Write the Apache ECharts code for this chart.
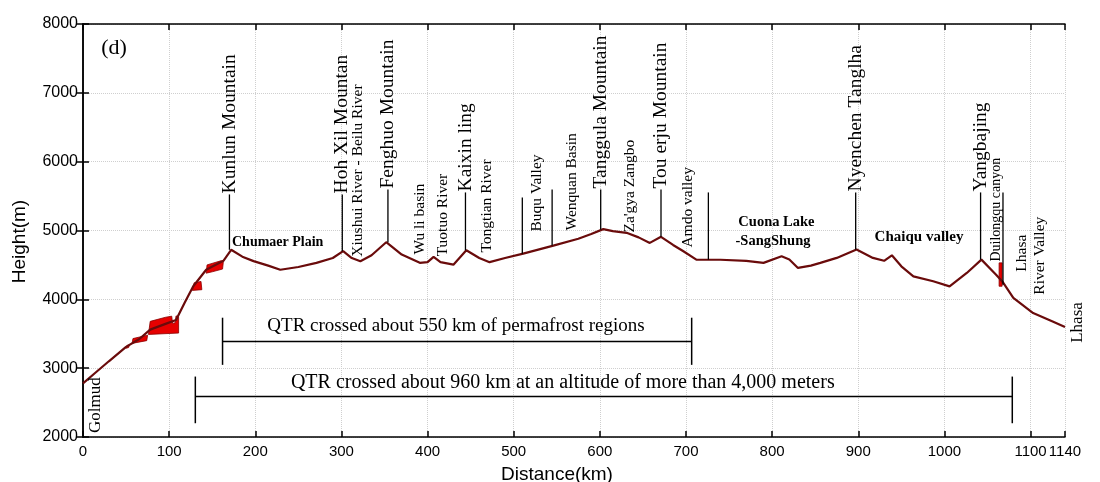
<!DOCTYPE html>
<html><head><meta charset="utf-8">
<script src="https://cdn.jsdelivr.net/npm/echarts@6/dist/echarts.min.js"></script>
<style>html,body{margin:0;padding:0;background:#fff}#c{width:1100px;height:482px}</style>
</head><body><div id="c"></div>
<script>
// ---- data ----
const profile = [[0,2780],[14,2930],[30,3100],[50,3310],[65,3420],[78,3560],[95,3640],[108,3700],[118,3950],[128,4190],[143,4430],[163,4560],[172,4720],[185,4620],[198,4555],[215,4490],[229,4430],[250,4470],[271,4530],[290,4600],[302,4700],[312,4600],[322,4553],[335,4640],[352,4830],[370,4650],[391,4530],[400,4540],[407,4616],[415,4540],[430,4504],[445,4713],[460,4600],[472,4540],[490,4600],[511,4664],[546,4781],[575,4880],[590,4950],[604,5020],[615,4990],[631,4966],[645,4900],[658,4820],[671,4908],[685,4790],[697,4698],[712,4577],[740,4575],[770,4560],[790,4530],[811,4625],[820,4580],[830,4456],[845,4490],[856,4529],[875,4602],[898,4723],[917,4602],[930,4560],[939,4640],[950,4480],[964,4334],[987,4262],[1006,4189],[1026,4383],[1043,4577],[1060,4358],[1068,4247],[1080,4020],[1103,3801],[1125,3680],[1140,3597]];
const redPatches = [
  [[50,3290],[51,3330],[54,3340],[53,3300]],
  [[57,3360],[58,3430],[75,3480],[74,3400]],
  [[76,3490],[78,3680],[96,3740],[103,3755],[104,3650],[107,3660],[108,3760],[111,3740],[111,3510]],
  [[127,4130],[129,4240],[137,4260],[138,4140]],
  [[143,4380],[144,4500],[160,4560],[163,4555],[162,4440],[150,4400]],
  [[1063.5,4190],[1063.5,4530],[1067,4530],[1067,4190]]
];
const peakNames = ["Kunlun Mountain","Hoh Xil Mountan","Fenghuo Mountain","Kaixin ling","Tanggula Mountain","Tou erju Mountain","Nyenchen Tanglha","Yangbajing"];
const peakKm = [170,301,354,444,601,671,897,1042];
const peakTop = [5524,5524,5596,5553,5596,5596,5553,5553];
const peakBottom = [4720,4700,4830,4713,5014,4908,4723,4577];
const smallNames = ["Xiushui River - Beilu River","Wu li basin","Tuotuo River","Tongtian River","Buqu Valley","Wenquan Basin","Za'gya Zangbo","Amdo valley","Duilongqu canyon","Lhasa","River Valley","Golmud","Lhasa"];
const smallKm = [319.6,391,418,468.6,527,567.7,635,702,1060,1090,1111,14,1155];
const smallBottom = [4620,4650,4625,4680,4985,5000,4970,4752,4548,4402,4068,2058,3369];
const smallSize = [15.5,15.5,15.5,15.5,15.5,15.5,15.5,15.5,14,15.5,15.5,17,17];
const leaderKm = [510,544.6,726,1068];
const leaderTop = [5480,5596,5553,5553];
const leaderBottom = [4664,4781,4577,4213];
const flatTexts = ["Chumaer Plain","Cuona Lake","-SangShung","Chaiqu valley","(d)"];
const flatKm = [226,805,801,970.5,36];
const flatH = [4829,5120,4843,4898,7649];
const flatSize = [14,14.5,14.5,15,22];
const spanTexts = ["QTR crossed about 550 km of permafrost regions","QTR crossed about 960 km at an altitude of more than 4,000 meters"];
const spanStart = [162,130.4];
const spanEnd = [706.6,1078.8];
const spanH = [3387,2587];
const spanTickLo = [3048,2200];
const spanTickHi = [3733,2878];
const spanTextKm = [433,557];
const spanTextH = [3606,2786];
const spanSize = [19,20];

const SERIF = '"Liberation Serif","Times New Roman",serif';
const SANS = '"Liberation Sans",Arial,sans-serif';

const chart = echarts.init(document.getElementById('c'));
const axisLineStyle = {color:'#000', width:1.5};
const plain = v => String(v);
const option = {
  backgroundColor:'#fff',
  animation:false,
  grid:{left:83,right:35,top:24,bottom:45,containLabel:false,outerBoundsMode:'none'},
  xAxis:[{
    type:'value', min:0, max:1140, interval:100,
    name:'Distance(km)', nameLocation:'middle', nameGap:28, nameMoveOverlap:false,
    nameTextStyle:{fontFamily:SANS, fontSize:19, color:'#000', padding:[0,34,0,0]},
    axisLine:{show:true, lineStyle:axisLineStyle},
    axisTick:{show:true, inside:true, length:6, lineStyle:{color:'#000', width:1.5}},
    axisLabel:{fontFamily:SANS, fontSize:15, color:'#000', margin:7, showMaxLabel:true, formatter:plain},
    splitLine:{show:true, lineStyle:{color:'#cfcfcf', type:'dotted', width:1}}
  },{
    type:'value', min:0, max:1140, interval:100, position:'top',
    axisLine:{show:true, lineStyle:axisLineStyle},
    axisTick:{show:true, inside:true, length:6, lineStyle:{color:'#000', width:1.5}},
    axisLabel:{show:false}, splitLine:{show:false}
  }],
  yAxis:[{
    type:'value', min:2000, max:8000, interval:1000,
    name:'Height(m)', nameLocation:'middle', nameGap:54, nameRotate:90, nameMoveOverlap:false,
    nameTextStyle:{fontFamily:SANS, fontSize:19, color:'#000', padding:[0,22,0,0]},
    axisLine:{show:true, lineStyle:axisLineStyle},
    axisTick:{show:true, inside:true, length:6, lineStyle:{color:'#000', width:1.5}},
    axisLabel:{fontFamily:SANS, fontSize:16, color:'#000', margin:5, formatter:plain},
    splitLine:{show:true, lineStyle:{color:'#cfcfcf', type:'dotted', width:1}}
  },{
    type:'value', min:2000, max:8000, interval:1000, position:'right',
    axisLine:{show:true, lineStyle:axisLineStyle},
    axisTick:{show:true, inside:true, length:6, lineStyle:{color:'#000', width:1.5}},
    axisLabel:{show:false}, splitLine:{show:false}
  }],
  series:[
    {
      type:'custom', name:'redPatches', clip:false, z:3,
      data: redPatches.map(p => [p[0][0], p[0][1]]),
      renderItem:(params, api) => {
        const pts = redPatches[params.dataIndex].map(q => api.coord(q));
        return {type:'polygon', shape:{points:pts}, style:{fill:'#e60000', stroke:'#8a0000', lineWidth:0.8}};
      }
    },
    {
      type:'line', name:'profile', data:profile, showSymbol:false, z:4,
      lineStyle:{color:'#6a0b0b', width:2.2}
    },
    {
      type:'custom', name:'peaks', clip:false, z:5,
      data: peakKm.map((k,i) => [k, peakTop[i]]),
      renderItem:(params, api) => {
        const i = params.dataIndex;
        const top = api.coord([peakKm[i], peakTop[i]]);
        const bot = api.coord([peakKm[i], peakBottom[i]]);
        return {type:'group', children:[
          {type:'line', shape:{x1:top[0], y1:top[1], x2:bot[0], y2:bot[1]}, style:{stroke:'#000', lineWidth:1.3}},
          {type:'text', x:top[0], y:top[1]-1, rotation:Math.PI/2,
           style:{text:peakNames[i], font:'19.5px ' + SERIF, fill:'#000', align:'left', verticalAlign:'middle'}}
        ]};
      }
    },
    {
      type:'custom', name:'leaders', clip:false, z:5,
      data: leaderKm.map((k,i) => [k, leaderTop[i]]),
      renderItem:(params, api) => {
        const i = params.dataIndex;
        const top = api.coord([leaderKm[i], leaderTop[i]]);
        const bot = api.coord([leaderKm[i], leaderBottom[i]]);
        return {type:'line', shape:{x1:top[0], y1:top[1], x2:bot[0], y2:bot[1]}, style:{stroke:'#000', lineWidth:1.3}};
      }
    },
    {
      type:'custom', name:'smallLabels', clip:false, z:5,
      data: smallKm.map((k,i) => [k, smallBottom[i]]),
      renderItem:(params, api) => {
        const i = params.dataIndex;
        const p = api.coord([smallKm[i], smallBottom[i]]);
        return {type:'text', x:p[0], y:p[1], rotation:Math.PI/2,
          style:{text:smallNames[i], font:smallSize[i] + 'px ' + SERIF, fill:'#000', align:'left', verticalAlign:'middle'}};
      }
    },
    {
      type:'custom', name:'flatLabels', clip:false, z:5,
      data: flatKm.map((k,i) => [k, flatH[i]]),
      renderItem:(params, api) => {
        const i = params.dataIndex;
        const p = api.coord([flatKm[i], flatH[i]]);
        return {type:'text', x:p[0], y:p[1],
          style:{text:flatTexts[i], font:(i<4?'bold ':'') + flatSize[i] + 'px ' + SERIF, fill:'#000', align:'center', verticalAlign:'middle'}};
      }
    },
    {
      type:'custom', name:'spans', clip:false, z:5,
      data: spanStart.map((k,i) => [k, spanH[i]]),
      renderItem:(params, api) => {
        const i = params.dataIndex;
        const a = api.coord([spanStart[i], spanH[i]]);
        const b = api.coord([spanEnd[i], spanH[i]]);
        const al = api.coord([spanStart[i], spanTickLo[i]]);
        const ah = api.coord([spanStart[i], spanTickHi[i]]);
        const bl = api.coord([spanEnd[i], spanTickLo[i]]);
        const bh = api.coord([spanEnd[i], spanTickHi[i]]);
        const t = api.coord([spanTextKm[i], spanTextH[i]]);
        const st = {stroke:'#000', lineWidth:1.5};
        return {type:'group', children:[
          {type:'line', shape:{x1:a[0], y1:a[1], x2:b[0], y2:b[1]}, style:st},
          {type:'line', shape:{x1:al[0], y1:al[1], x2:ah[0], y2:ah[1]}, style:st},
          {type:'line', shape:{x1:bl[0], y1:bl[1], x2:bh[0], y2:bh[1]}, style:st},
          {type:'text', x:t[0], y:t[1], style:{text:spanTexts[i], font:spanSize[i] + 'px ' + SERIF, fill:'#000', align:'center', verticalAlign:'middle'}}
        ]};
      }
    }
  ]
};
chart.setOption(option);
</script>
</body></html>
